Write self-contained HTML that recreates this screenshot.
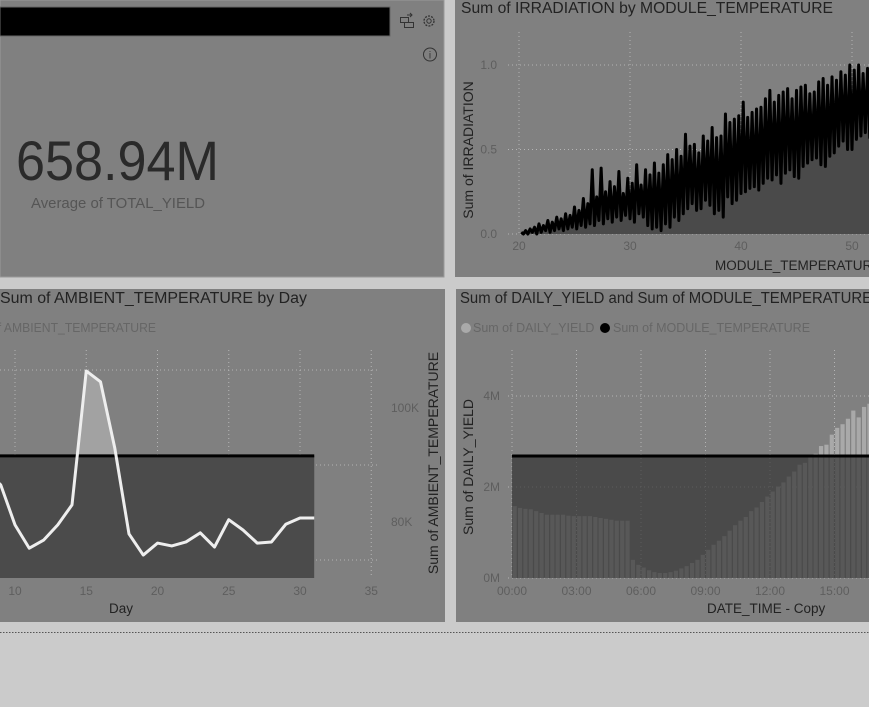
<!DOCTYPE html>
<html><head><meta charset="utf-8"><style>
html,body{margin:0;padding:0;background:#cbcbcb;}
svg{display:block;font-family:"Liberation Sans",sans-serif;}
</style></head><body>
<svg id="s" width="869" height="707" viewBox="0 0 869 707">
<rect x="0" y="0" width="444" height="277" fill="#808080" stroke="#9a9a9a"/>
<rect x="455" y="0" width="414" height="277" fill="#808080"/>
<rect x="0" y="289" width="445" height="333" fill="#808080"/>
<rect x="456" y="289" width="413" height="333" fill="#808080"/>
<line x1="0" y1="632.5" x2="869" y2="632.5" stroke="#555" stroke-dasharray="1.5,1.5"/>

<rect x="0" y="7" width="390" height="29" fill="#000" stroke="#666"/>
<g fill="none" stroke="#333" stroke-width="1">
<rect x="400.5" y="17.5" width="8" height="5"/><rect x="404.5" y="22.5" width="9" height="5"/><path d="M407 15h5m-2-2l2 2-2 2"/>
</g>
<g><circle cx="429" cy="21" r="5" fill="none" stroke="#333" stroke-width="1.3" stroke-dasharray="2,1.2"/><circle cx="429" cy="21" r="2.2" fill="none" stroke="#333"/></g>
<g><circle cx="430" cy="54.5" r="6.5" fill="none" stroke="#333"/><text x="430" y="58.5" font-size="10" text-anchor="middle" fill="#333">i</text></g>
<text x="16" y="180" font-size="56" fill="#2a2a2a" textLength="203" lengthAdjust="spacingAndGlyphs">658.94M</text>
<text x="31" y="208" font-size="15" fill="#555" textLength="174" lengthAdjust="spacingAndGlyphs">Average of TOTAL_YIELD</text>

<text x="461" y="13" font-size="15.5" fill="#222" textLength="372" lengthAdjust="spacingAndGlyphs">Sum of IRRADIATION by MODULE_TEMPERATURE</text>
<g id="irr"></g>
<text transform="translate(473,150) rotate(-90)" font-size="14" fill="#222" text-anchor="middle">Sum of IRRADIATION</text>
<text x="715" y="270" font-size="13.5" fill="#222">MODULE_TEMPERATURE</text>

<text x="0" y="303" font-size="15.5" fill="#222" textLength="307" lengthAdjust="spacingAndGlyphs">Sum of AMBIENT_TEMPERATURE by Day</text>
<text x="-9" y="332" font-size="12.5" fill="#666" textLength="165" lengthAdjust="spacingAndGlyphs">of AMBIENT_TEMPERATURE</text>
<g id="amb"></g>
<text transform="translate(438,463) rotate(-90)" font-size="14" fill="#222" text-anchor="middle">Sum of AMBIENT_TEMPERATURE</text>
<text x="121" y="613" font-size="13.5" fill="#222" text-anchor="middle">Day</text>

<text x="460" y="303" font-size="15.5" fill="#222" textLength="412" lengthAdjust="spacingAndGlyphs">Sum of DAILY_YIELD and Sum of MODULE_TEMPERATURE</text>
<circle cx="466" cy="328" r="5" fill="#aaa"/>
<text x="473" y="332" font-size="12.5" fill="#666">Sum of DAILY_YIELD</text>
<circle cx="605" cy="328" r="5" fill="#000"/>
<text x="613" y="332" font-size="12.5" fill="#666">Sum of MODULE_TEMPERATURE</text>
<g id="yld"></g>
<text transform="translate(473,467) rotate(-90)" font-size="14" fill="#222" text-anchor="middle">Sum of DAILY_YIELD</text>
<text x="707" y="613" font-size="13.5" fill="#222">DATE_TIME - Copy</text>
</svg>
<script>
// ---- Irradiation data (temps 20.2..52.0 step 0.2) ----
const irrTemps=[];for(let i=0;i<160;i++)irrTemps.push(20.2+i*0.2);
const irrValues=[
0.01,0.00,0.02,0.00,0.03,0.01,0.04,0.00,0.06,0.01,0.05,0.02,0.08,0.01,0.07,0.02,0.10,0.03,0.09,0.02,0.12,0.03,0.11,0.04,0.16,0.03,0.14,0.05,0.21,0.04,0.18,0.06,
0.38,0.05,0.22,0.08,0.39,0.06,0.25,0.09,0.31,0.07,0.28,0.10,0.37,0.08,0.24,0.11,0.33,0.09,0.30,0.07,0.41,0.12,0.29,0.10,0.38,0.05,0.35,0.03,0.42,0.04,0.36,0.02,
0.41,0.06,0.47,0.04,0.44,0.10,0.50,0.08,0.46,0.12,0.59,0.15,0.52,0.18,0.53,0.14,0.48,0.15,0.58,0.20,0.55,0.17,0.63,0.12,0.57,0.14,0.58,0.10,0.71,0.22,0.66,0.18,
0.68,0.20,0.70,0.24,0.78,0.25,0.69,0.27,0.72,0.28,0.74,0.26,0.75,0.30,0.80,0.33,0.85,0.32,0.78,0.35,0.82,0.30,0.84,0.36,0.86,0.38,0.80,0.34,0.85,0.33,0.87,0.40,
0.88,0.42,0.83,0.44,0.84,0.45,0.90,0.41,0.92,0.40,0.88,0.46,0.93,0.48,0.91,0.52,0.96,0.55,0.94,0.50,1.00,0.50,0.97,0.56,1.00,0.58,0.95,0.60,0.98,0.57,1.00,0.62];
const irrXTicks=[20,30,40,50];
const irrYTicks=[0.0,0.5,1.0];
// ---- Ambient data ----
const ambDays=[8,9,10,11,12,13,14,15,16,17,18,19,20,21,22,23,24,25,26,27,28,29,30,31];
const ambValues=[89.0,86.5,79.5,75.4,76.8,79.5,83.0,106.5,104.6,93.0,77.9,74.2,76.3,75.8,76.5,78.1,75.6,80.4,78.6,76.3,76.5,79.6,80.7,80.7];
const ambRef=[91.6];
const ambXTicks=[10,15,20,25,30,35];
const ambYTicks=[80,100];
// ---- Yield data (15-min bars from 00:00) ----
const yldSlots=[];for(let i=0;i<67;i++)yldSlots.push(i);
const yldValues=[1.58,1.54,1.52,1.51,1.47,1.43,1.39,1.39,1.39,1.39,1.37,1.36,1.36,1.36,1.36,1.34,1.32,1.30,1.28,1.26,1.26,1.26,0.40,0.29,0.23,0.17,0.13,0.11,0.11,0.13,0.16,0.21,0.26,0.33,0.40,0.51,0.62,0.73,0.82,0.92,1.04,1.16,1.26,1.34,1.47,1.55,1.67,1.79,1.90,2.01,2.10,2.23,2.34,2.49,2.53,2.65,2.73,2.90,2.93,3.15,3.30,3.38,3.50,3.68,3.53,3.76,3.83];
const yldRef=[2.68];
const yldXTicks=["00:00","03:00","06:00","09:00","12:00","15:00"];
const yldYTicks=[0,2,4];

const NS="http://www.w3.org/2000/svg";
function mk(parent,tag,attrs){const e=document.createElementNS(NS,tag);for(const k in attrs)e.setAttribute(k,attrs[k]);parent.appendChild(e);return e;}

(function(){
const g=document.getElementById('irr');
const x=t=>519+(t-20)*11.1, y=v=>234-v*169;
irrXTicks.forEach(t=>{
 const l=mk(g,'line',{x1:x(t),x2:x(t),y1:32,y2:234,stroke:'#b5b5b5','stroke-dasharray':'1,3'});
 
 
 const tx=mk(g,'text',{x:x(t),y:250,'font-size':12,fill:'#5e5e5e','text-anchor':'middle'});tx.textContent=t;
 
 
});
irrYTicks.forEach(v=>{
 const l=mk(g,'line',{x1:508,x2:869,y1:y(v),y2:y(v),stroke:'#b5b5b5','stroke-dasharray':'1,3'});
 
 
 const tx=mk(g,'text',{x:497,y:y(v)+4,'font-size':12,fill:'#5e5e5e','text-anchor':'end'});tx.textContent=v.toFixed(1);
 
 
});
let pts=irrTemps.map((t,i)=>x(t)+','+y(irrValues[i]));
const a=mk(g,'polygon',{points:x(irrTemps[0])+','+y(0)+' '+pts.join(' ')+' '+x(irrTemps[irrTemps.length-1])+','+y(0),fill:'#4a4a4a'});


const ln=mk(g,'polyline',{points:pts.join(' '),fill:'none',stroke:'#000','stroke-width':3,'stroke-linejoin':'round'});


})();

(function(){
const g=document.getElementById('amb');
const x=d=>15+(d-10)*14.25, y=v=>408-(v-100)*5.7, base=578;
[370,465,560].forEach(yy=>{
 const l=mk(g,'line',{x1:0,x2:378,y1:yy,y2:yy,stroke:'#b5b5b5','stroke-dasharray':'1,3'});
 
 
});
ambXTicks.forEach(d=>{
 const l=mk(g,'line',{x1:x(d),x2:x(d),y1:350,y2:base,stroke:'#b5b5b5','stroke-dasharray':'1,3'});
 
 
 const tx=mk(g,'text',{x:x(d),y:595,'font-size':12,fill:'#5e5e5e','text-anchor':'middle'});tx.textContent=d;
 
 
});
ambYTicks.forEach(v=>{
 const tx=mk(g,'text',{x:391,y:y(v)+4,'font-size':12,fill:'#5e5e5e'});tx.textContent=v+'K';
 
 
});
const last=ambDays[ambDays.length-1];
const pts=ambDays.map((d,i)=>x(d)+','+y(ambValues[i]));
const a=mk(g,'polygon',{points:x(ambDays[0])+','+base+' '+pts.join(' ')+' '+x(last)+','+base,fill:'#a2a2a2'});


const r=mk(g,'rect',{x:0,y:y(ambRef[0]),width:x(last),height:base-y(ambRef[0]),fill:'#4b4b4b'});


const rl=mk(g,'line',{x1:0,x2:x(last),y1:y(ambRef[0]),y2:y(ambRef[0]),stroke:'#000','stroke-width':3});


const ln=mk(g,'polyline',{points:pts.join(' '),fill:'none',stroke:'#eee','stroke-width':3,'stroke-linejoin':'round'});


})();

(function(){
const g=document.getElementById('yld');
const bw=21.5/4, x=i=>512+i*bw, y=v=>578-v*45.5;
yldYTicks.forEach(v=>{
 const l=mk(g,'line',{x1:508,x2:869,y1:y(v),y2:y(v),stroke:'#b5b5b5','stroke-dasharray':'1,3'});
 
 
 const tx=mk(g,'text',{x:500,y:y(v)+4,'font-size':12,fill:'#5e5e5e','text-anchor':'end'});tx.textContent=v+'M';
 
 
});
yldXTicks.forEach((t,i)=>{
 const xx=x(i*12);
 const l=mk(g,'line',{x1:xx,x2:xx,y1:350,y2:578,stroke:'#b5b5b5','stroke-dasharray':'1,3'});
 
 
 const tx=mk(g,'text',{x:xx,y:595,'font-size':12,fill:'#5e5e5e','text-anchor':'middle'});tx.textContent=t;
 
 
});
yldSlots.forEach((s,i)=>{
 const r=mk(g,'rect',{x:x(s)+0.6,y:y(yldValues[i]),width:bw-1.2,height:578-y(yldValues[i]),fill:'#a9a9a9'});
 
 
});
const ov=mk(g,'rect',{x:512,y:y(yldRef[0]),width:357,height:578-y(yldRef[0]),fill:'rgba(45,45,45,0.65)'});


const ln=mk(g,'line',{x1:512,x2:869,y1:y(yldRef[0]),y2:y(yldRef[0]),stroke:'#000','stroke-width':3});


})();
</script>
</body></html>
